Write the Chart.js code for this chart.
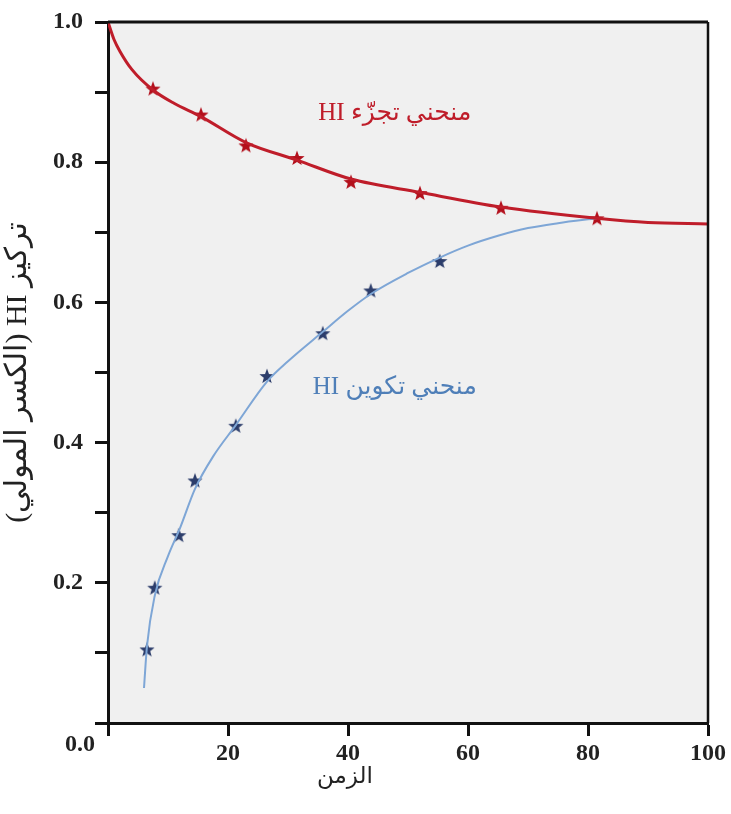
<!DOCTYPE html>
<html>
<head>
<meta charset="utf-8">
<script src="https://cdn.jsdelivr.net/npm/chart.js@4.4.1/dist/chart.umd.min.js"></script>
<style>
  html, body { margin: 0; padding: 0; background: #fff; }
  #wrap { width: 731px; height: 814px; }
</style>
</head>
<body>
<div id="wrap"><canvas id="c" width="731" height="814" dir="rtl"></canvas></div>
<script>
// dissociation curve (red)
const redCurveX = [0, 1, 2, 4, 7.5, 11, 15.5, 23, 31.5, 40.5, 52, 65.5, 81.5, 90, 100]
const redCurveY = [1.0, 0.975, 0.958, 0.932, 0.903, 0.884, 0.865, 0.828, 0.803, 0.776, 0.757, 0.736, 0.720, 0.714, 0.712]
const redStarX = [7.5, 15.5, 23, 31.5, 40.5, 52, 65.5, 81.5]
const redStarY = [0.905, 0.868, 0.824, 0.806, 0.772, 0.756, 0.735, 0.72]

// formation curve (blue)
const blueCurveX = [6, 6.5, 7.8, 10, 12, 14.5, 17.5, 21.3, 26.5, 30, 35.8, 40, 43.8, 50, 55.3, 60, 65, 70, 75, 81.5]
const blueCurveY = [0.05, 0.11, 0.182, 0.238, 0.278, 0.334, 0.38, 0.425, 0.487, 0.516, 0.558, 0.588, 0.612, 0.642, 0.664, 0.681, 0.695, 0.706, 0.713, 0.72]
const blueStarX = [6.5, 7.8, 11.8, 14.5, 21.3, 26.5, 35.8, 43.8, 55.3]
const blueStarY = [0.105, 0.193, 0.268, 0.346, 0.424, 0.495, 0.556, 0.617, 0.659]

const yTickLabels = ['', '', '0.2', '', '0.4', '', '0.6', '', '0.8', '', '1.0']
const xTickLabels = ['', '20', '40', '60', '80', '100']

const RED = '#bf1d2a'
const RED_STAR = '#b3101c'
const BLUE = '#7ea6d6'
const BLUE_STAR = '#2c3d6b'

function pts (xs, ys) {
  return xs.map((x, i) => ({ x: x, y: ys[i] }))
}

function star (color, r) {
  const cv = document.createElement('canvas')
  const s = Math.ceil(r * 2 + 2)
  cv.width = s
  cv.height = s
  const c = cv.getContext('2d')
  c.fillStyle = color
  c.beginPath()
  for (let i = 0; i < 10; i++) {
    const rad = i % 2 === 0 ? r : r * 0.42
    const a = -Math.PI / 2 + i * Math.PI / 5
    const px = s / 2 + rad * Math.cos(a)
    const py = s / 2 + rad * Math.sin(a) + 0.6
    if (i === 0) c.moveTo(px, py)
    else c.lineTo(px, py)
  }
  c.closePath()
  c.fill()
  return cv
}

const serif = '"Liberation Serif", "Times New Roman", "DejaVu Sans", serif'

// background, top/right frame, texts
const decor = {
  id: 'decor',
  beforeDraw (chart) {
    const { ctx, chartArea: a } = chart
    ctx.save()
    ctx.fillStyle = '#f0f0f0'
    ctx.fillRect(a.left, a.top, a.right - a.left, a.bottom - a.top)
    ctx.restore()
  },
  afterDraw (chart) {
    const { ctx, chartArea: a, scales } = chart
    const xs = scales.x
    const ys = scales.y
    ctx.save()
    ctx.strokeStyle = '#111'
    ctx.lineWidth = 3
    ctx.beginPath()
    ctx.moveTo(a.left, a.top)
    ctx.lineTo(a.right, a.top)
    ctx.stroke()
    ctx.lineWidth = 2.5
    ctx.beginPath()
    ctx.moveTo(a.right, a.top)
    ctx.lineTo(a.right, a.bottom)
    ctx.stroke()

    ctx.direction = 'rtl'
    ctx.textBaseline = 'middle'
    ctx.textAlign = 'center'
    ctx.font = '25px ' + serif
    ctx.fillStyle = RED
    ctx.fillText('منحني تجزّء HI', xs.getPixelForValue(47.8), ys.getPixelForValue(0.869))
    ctx.fillStyle = '#4f7fb8'
    ctx.fillText('منحني تكوين HI', xs.getPixelForValue(47.8), ys.getPixelForValue(0.478))

    ctx.fillStyle = '#222'
    ctx.font = '23px ' + serif
    ctx.fillText('الزمن', xs.getPixelForValue(39.5), a.bottom + 54)

    ctx.direction = 'ltr'
    ctx.font = 'bold 24px ' + serif
    ctx.fillText('0.0', xs.left - 28, ys.getPixelForValue(0) + 22)
    ctx.restore()
  }
}

new Chart(document.getElementById('c'), {
  type: 'scatter',
  data: {
    datasets: [
      {
        data: pts(redCurveX, redCurveY),
        showLine: true,
        borderColor: RED,
        borderWidth: 3,
        pointRadius: 0,
        cubicInterpolationMode: 'monotone'
      },
      {
        data: pts(blueCurveX, blueCurveY),
        showLine: true,
        borderColor: BLUE,
        borderWidth: 2,
        pointRadius: 0,
        cubicInterpolationMode: 'monotone'
      },
      {
        data: pts(redStarX, redStarY),
        pointStyle: star(RED_STAR, 8)
      },
      {
        data: pts(blueStarX, blueStarY),
        pointStyle: star(BLUE_STAR, 8)
      }
    ]
  },
  options: {
    responsive: false,
    animation: false,
    layout: { padding: { top: 22, right: 23, left: 0, bottom: 0 } },
    plugins: {
      legend: { display: false },
      tooltip: { enabled: false }
    },
    scales: {
      x: {
        type: 'linear',
        min: 0,
        max: 100,
        afterFit (s) {
          s.height = 91
          s.paddingLeft = 0
          s.paddingRight = 0
        },
        afterBuildTicks (s) {
          s.ticks = xTickLabels.map((t, i) => ({ value: i * 20 }))
        },
        ticks: {
          autoSkip: false,
          maxRotation: 0,
          padding: 3,
          color: '#222',
          font: { family: serif, size: 24, weight: 'bold' },
          callback: (v, i) => xTickLabels[i]
        },
        grid: {
          drawOnChartArea: false,
          drawTicks: true,
          tickLength: 13,
          tickWidth: 3,
          tickColor: '#111'
        },
        border: { display: true, color: '#111', width: 3 }
      },
      y: {
        type: 'linear',
        min: 0,
        max: 1,
        afterFit (s) {
          s.width = 108
          s.paddingTop = 0
          s.paddingBottom = 0
        },
        afterBuildTicks (s) {
          s.ticks = yTickLabels.map((t, i) => ({ value: i / 10 }))
        },
        ticks: {
          autoSkip: false,
          padding: 12,
          color: '#222',
          font: { family: serif, size: 24, weight: 'bold' },
          callback: (v, i) => yTickLabels[i]
        },
        grid: {
          drawOnChartArea: false,
          drawTicks: true,
          tickLength: 13,
          tickWidth: 3,
          tickColor: '#111'
        },
        border: { display: true, color: '#111', width: 3 },
        title: {
          display: true,
          text: 'تركيز HI (الكسر المولي)',
          color: '#222',
          font: { family: serif, size: 30 },
          padding: { top: 0, bottom: 0 }
        }
      }
    }
  },
  plugins: [decor]
})
</script>
</body>
</html>
